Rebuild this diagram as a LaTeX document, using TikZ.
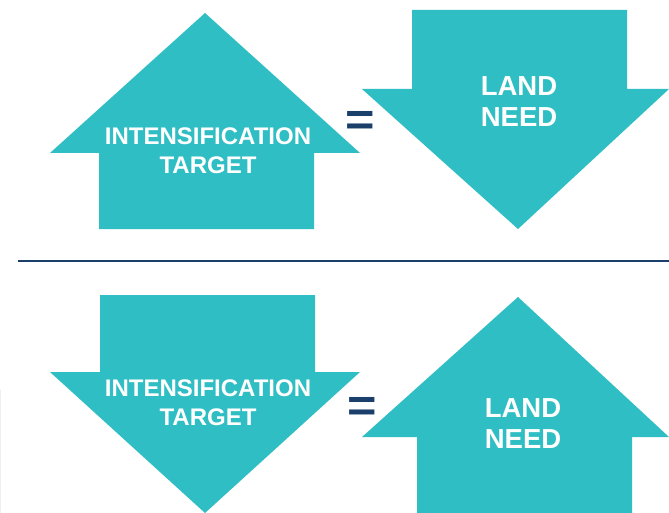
\documentclass[tikz,border=0pt]{standalone}
\usepackage{fontspec}
\setmainfont{Liberation Sans}
\definecolor{teal1}{HTML}{2FBEC3}
\definecolor{navy1}{HTML}{1B3F6B}
\tikzset{
  arrowshape/.style={fill=teal1,draw=none},
  smalltxt/.style={text=white,font=\fontsize{24}{29.5}\selectfont\bfseries,align=center,inner sep=0pt},
  bigtxt/.style={text=white,font=\fontsize{27.5}{31}\selectfont\bfseries,align=center,inner sep=0pt},
  eqtxt/.style={text=navy1,font=\fontsize{42}{42}\selectfont\bfseries,inner sep=0pt,xscale=1.2,yscale=1.1}
}
\begin{document}
\begin{tikzpicture}[x=1pt,y=-1pt]
\useasboundingbox (0,0) rectangle (669,513);
\fill[white] (0,0) rectangle (669,513);
\fill[arrowshape] (205,13) -- (360,153) -- (314,153) -- (314,229) -- (99,229) -- (99,153) -- (50,153) -- cycle;
\fill[arrowshape] (412,10) -- (627,10) -- (627,89) -- (669,89) -- (518,229) -- (362,89) -- (412,89) -- cycle;
\fill[arrowshape] (100,295) -- (315,295) -- (315,372) -- (360,372) -- (205,513) -- (50,372) -- (100,372) -- cycle;
\fill[arrowshape] (518,297) -- (669,437) -- (632,437) -- (632,513) -- (417,513) -- (417,437) -- (362,437) -- cycle;
\coordinate (ruleL) at (18,261);
\coordinate (ruleR) at (669,261);
\draw[navy1,line width=2.6pt] (ruleL) -- (ruleR);
\fill[black!6!white] (0,390) rectangle (1,513);
\node[smalltxt] (t1) at (208,150.5) {INTENSIFICATION\\TARGET};
\node[bigtxt] (l1) at (519,102) {LAND\\NEED};
\node[eqtxt] (e1) at (360,123) {=};
\node[smalltxt] (t2) at (208,402.5) {INTENSIFICATION\\TARGET};
\node[bigtxt] (l2) at (523,424) {LAND\\NEED};
\node[eqtxt] (e2) at (362,409) {=};
\end{tikzpicture}
\end{document}
